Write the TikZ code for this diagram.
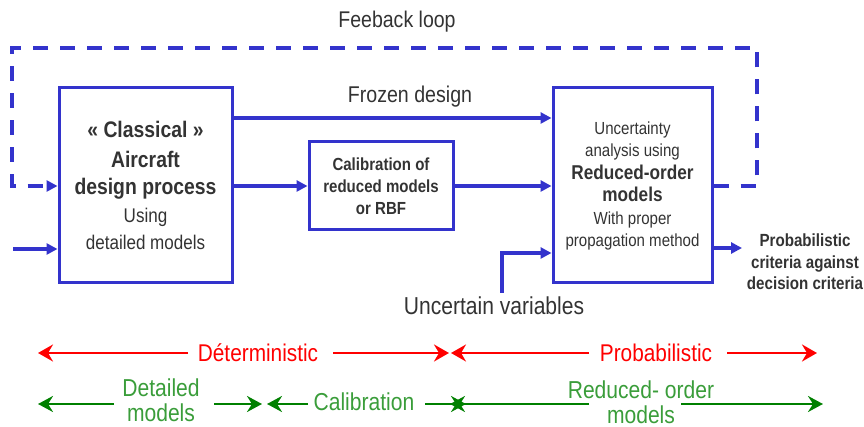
\documentclass[tikz,border=0pt]{standalone}
\usepackage{fontspec}
\setmainfont[FakeStretch=0.86]{Liberation Sans}
\usetikzlibrary{arrows.meta}
\definecolor{bl}{HTML}{3333CC}
\definecolor{rd}{HTML}{FF0000}
\definecolor{gr}{HTML}{008000}
\definecolor{grt}{HTML}{3A9D3A}
\definecolor{tx}{HTML}{333333}
\newcommand\fLB{\fontsize{22.5}{27.5}\selectfont\bfseries}
\newcommand\fLR{\fontsize{19.8}{26.5}\selectfont\mdseries}
\newcommand\fRR{\fontsize{17.5}{22}\selectfont\mdseries}
\newcommand\fRB{\fontsize{20}{24.5}\selectfont\bfseries}
\begin{document}
\begin{tikzpicture}[x=1pt,y=-1pt,
  box/.style={draw=bl, line width=3pt, inner sep=0pt, align=center, text=tx},
  lbl/.style={text=tx, align=center, inner sep=0pt},
  flow/.style={draw=bl, line width=3.2pt, -{Triangle[length=11pt,width=11pt]}},
  fbloop/.style={draw=bl, line width=3.5pt, dash pattern=on 15pt off 12pt, -{Triangle[length=11pt,width=11pt]}},
  redl/.style={draw=rd, line width=2.6pt, -{Stealth[length=15pt,width=17pt,inset=5pt]}},
  grnl/.style={draw=gr, line width=2.8pt, -{Stealth[length=15pt,width=16pt,inset=5pt]}},
  redt/.style={text=rd, inner sep=0pt, font=\fontsize{24.2}{28}\selectfont},
  grnt/.style={text=grt, inner sep=0pt, align=center, font=\fontsize{24.5}{25}\selectfont}
]
\useasboundingbox (0,0) rectangle (864,427);

% boxes
\node[box, minimum width=173pt, minimum height=195pt, font=\fLB] (L) at (145.5,185.5)
  {\fLB «~Classical~»\\[2.5pt] \fLB Aircraft\\ \fLB design process\\
   \fLR Using\\ \fLR detailed models};
\node[box, minimum width=144pt, minimum height=88pt, font=\fRR\bfseries] (M) at (381,186)
  {Calibration of\\ reduced models\\ or RBF};
\node[box, minimum width=159pt, minimum height=195pt, font=\fRR] (R) at (632.5,185.5)
  {\fRR Uncertainty\\ \fRR analysis using\\[1pt]
   \fRB Reduced-order\\ \fRB models\\[1pt]
   \fRR With proper\\ \fRR propagation method};

% labels
\node[lbl, font=\fontsize{22.7}{27}\selectfont] (FB) at (397,22) {Feeback loop};
\node[lbl, font=\fontsize{22.8}{27}\selectfont] (FZ) at (410,97) {Frozen design};
\node[lbl, font=\fontsize{24.5}{28}\selectfont] (UV) at (494,306) {Uncertain variables};
\node[lbl, font=\fontsize{17.6}{21.5}\selectfont\bfseries] (PC) at (805,262) {Probabilistic\\ criteria against\\ decision criteria};

% helper coordinates
\coordinate (y118) at (0,118);
\coordinate (in) at (13,249);
\coordinate (uv) at (502,293);
\coordinate (y253) at (0,253);
\coordinate (y248) at (0,248);
\coordinate (outE) at (742,248);
\coordinate (fbR) at (757,48);
\coordinate (fbL) at (12,48);

% flows
\draw[flow] (L.east |- y118) -- (R.west |- y118);
\draw[flow] (L.east |- M.west) -- (M.west);
\draw[flow] (M.east) -- (R.west |- M.east);
\draw[flow] (in) -- (L.west |- in);
\draw[flow] (uv) |- (R.west |- y253);
\draw[flow] (R.east |- y248) -- (outE);
\draw[fbloop] (R.east |- M.east) -| (fbR) -- (fbL) |- (L.west |- M.west);

% bottom red
\coordinate (r1) at (38,353);  \coordinate (r2) at (188,353);
\coordinate (r3) at (333,353); \coordinate (r4) at (449,353);
\coordinate (r5) at (451,353); \coordinate (r6) at (589,353);
\coordinate (r7) at (727,353); \coordinate (r8) at (817,353);
\draw[redl] (r2) -- (r1);
\draw[redl] (r3) -- (r4);
\draw[redl] (r6) -- (r5);
\draw[redl] (r7) -- (r8);
\node[redt] (DT) at (258,353) {Déterministic};
\node[redt] (PB) at (656,353) {Probabilistic};

% bottom green
\coordinate (g1) at (38,404);  \coordinate (g2) at (114,404);
\coordinate (g3) at (214,404); \coordinate (g4) at (262,404);
\coordinate (g5) at (267,404); \coordinate (g6) at (308,404);
\coordinate (g7) at (425,404); \coordinate (g8) at (466,404);
\coordinate (g9) at (450,404); \coordinate (g10) at (589,404);
\coordinate (g11) at (681,404); \coordinate (g12) at (823,404);
\draw[grnl] (g2) -- (g1);
\draw[grnl] (g3) -- (g4);
\draw[grnl] (g6) -- (g5);
\draw[grnl] (g7) -- (g8);
\draw[grnl] (g10) -- (g9);
\draw[grnl] (g11) -- (g12);
\node[grnt] (DM) at (161,400) {Detailed\\ models};
\node[grnt] (CB) at (364,402) {Calibration};
\node[grnt] (RO) at (641,402) {Reduced- order\\ models};
\end{tikzpicture}
\end{document}
